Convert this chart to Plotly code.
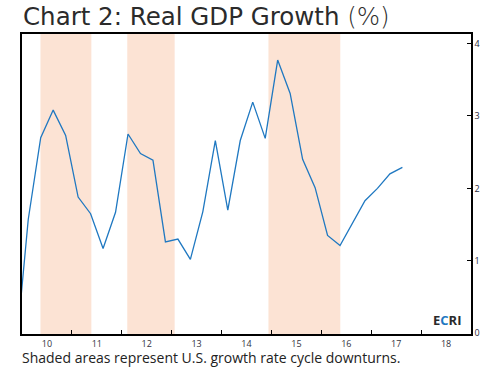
import plotly.graph_objects as go

# Quarterly real GDP growth (% y/y), quarter midpoints starting 2009Q4
start_year = 2009.875
gdp_growth = [-0.28,
              1.57, 2.70, 3.08, 2.73,
              1.88, 1.65, 1.17, 1.67,
              2.75, 2.48, 2.39, 1.26,
              1.30, 1.02, 1.68, 2.66,
              1.70, 2.66, 3.19, 2.69,
              3.77, 3.31, 2.40, 2.01,
              1.35, 1.21, 1.52, 1.83,
              2.00, 2.20, 2.29]
quarters = [start_year + 0.25 * i for i in range(len(gdp_growth))]

# Growth rate cycle downturns (start, end) in fractional years
downturns = [(2010.37, 2011.39), (2012.11, 2013.06), (2014.94, 2016.38)]

year_ticks = list(range(2011, 2019))
label_pos = [y + 0.5 for y in range(2010, 2019)]
label_text = ["10", "11", "12", "13", "14", "15", "16", "17", "18"]
y_ticks = [0, 1, 2, 3, 4]

fig = go.Figure()
fig.add_trace(go.Scatter(x=quarters, y=gdp_growth, mode="lines",
                         line=dict(color="#1f78c1", width=1.3),
                         showlegend=False, hoverinfo="skip"))

for s, e in downturns:
    fig.add_shape(type="rect", xref="x", yref="paper", x0=s, x1=e, y0=0, y1=1,
                  fillcolor="#fce3d4", line=dict(width=0), layer="below")

fig.update_layout(
    width=495, height=370,
    margin=dict(l=22, r=24, t=34, b=36, autoexpand=False),
    paper_bgcolor="white", plot_bgcolor="white",
    font=dict(family="Open Sans", color="#333333"),
    xaxis=dict(range=[2010, 2019], showgrid=False, zeroline=False, automargin=False,
               showline=True, linecolor="black", linewidth=1.5, mirror=True,
               tickvals=label_pos, ticktext=label_text, ticks="",
               tickfont=dict(size=9, color="#333340"),
               minor=dict(tickvals=year_ticks, ticks="inside", ticklen=4,
                          tickcolor="black", tickwidth=1)),
    yaxis=dict(range=[-0.01, 4.13], side="right", showgrid=False, zeroline=False,
               automargin=False,
               showline=True, linecolor="black", linewidth=1.5, mirror=True,
               tickvals=y_ticks, ticks="inside", ticklen=4, tickcolor="black",
               tickfont=dict(size=9, color="#2b2b3b")),
    annotations=[
        dict(text="Chart 2: Real GDP Growth <span style='font-weight:200'>(%)</span>",
             xref="paper", yref="paper", x=0, y=1, xanchor="left", yanchor="top",
             yshift=34, xshift=-1, showarrow=False,
             font=dict(size=24.5, color="#2b2b2b", family="DejaVu Sans")),
        dict(text="Shaded areas represent U.S. growth rate cycle downturns.",
             xref="paper", yref="paper", x=0, y=0, xanchor="left", yanchor="top",
             yshift=-12, xshift=-2, showarrow=False,
             font=dict(size=14, color="#222222", family="Open Sans")),
        dict(text="<b>E<span style='color:#1f78c1'>C</span>RI</b>",
             xref="paper", yref="paper", x=1, y=0, xanchor="right", yanchor="bottom",
             xshift=-8, yshift=3, showarrow=False,
             font=dict(size=13, color="#2a2a2a", family="Open Sans")),
    ],
)

fig.write_html("out.html", config={"displayModeBar": False},
               post_script="document.body.style.margin='0';document.body.style.overflow='hidden';")
